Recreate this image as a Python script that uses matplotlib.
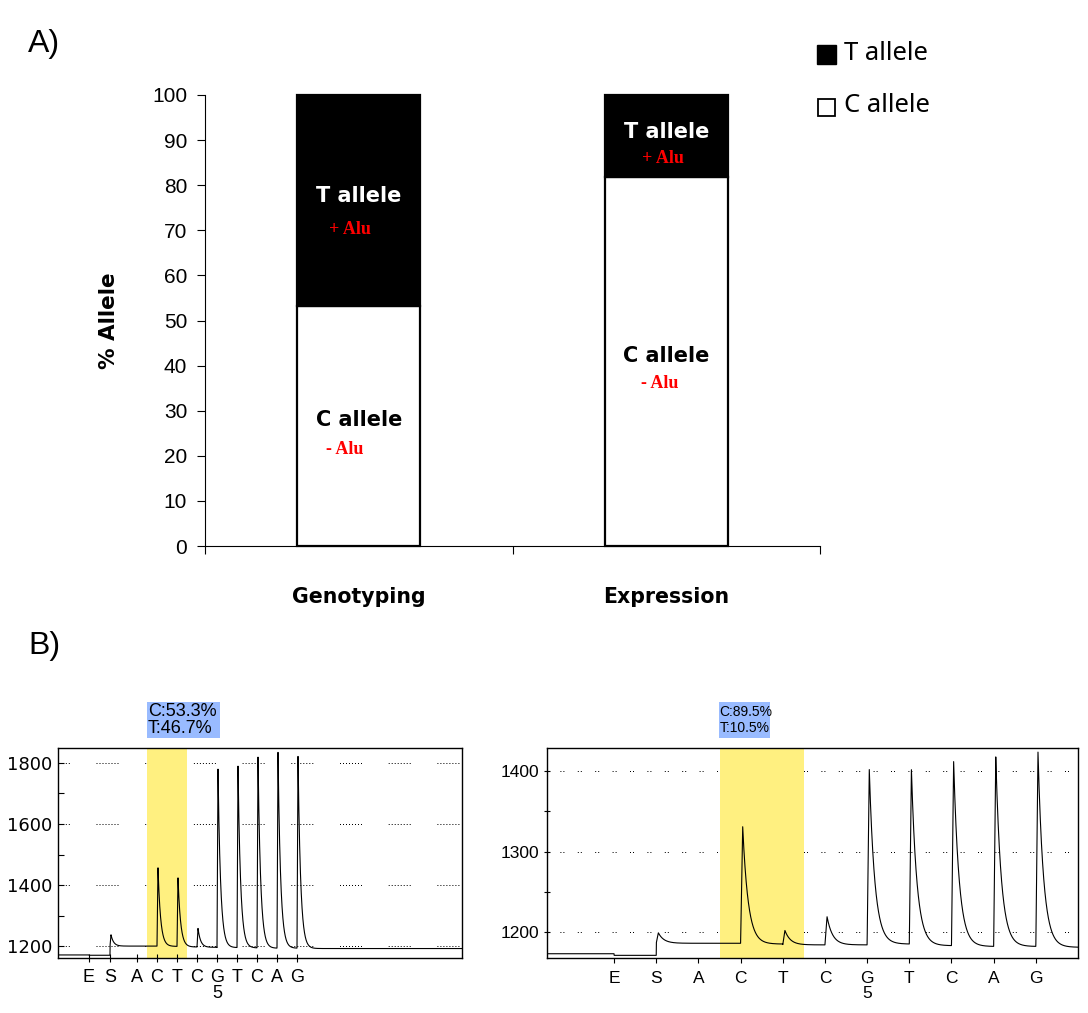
import matplotlib.pyplot as plt
import numpy as np
from matplotlib.patches import Rectangle
from matplotlib import transforms

# ---- panel A: allele percentages ----
categories = ['Genotyping', 'Expression']
c_allele = [53.3, 81.8]
t_allele = [46.7, 18.2]

# ---- panel B: pyrograms (dispensation order, peak tops, baselines) ----
disp_letters = ['E', 'S', 'A', 'C', 'T', 'C', 'G', 'T', 'C', 'A', 'G']
geno_times = [0.6, 1.65, 3, 4, 5, 6, 7, 8, 9, 10, 11]
geno_peaks = [0, 1237, 0, 1457, 1424, 1258, 1782, 1792, 1822, 1838, 1825]
geno_base = [1170, 1200, 1200, 1199, 1197, 1196, 1195, 1194, 1193, 1193, 1192]
geno_start = 1171
geno_pct = ['C:53.3%', 'T:46.7%']

expr_times = [1, 2, 3, 4, 5, 6, 7, 8, 9, 10, 11]
expr_peaks = [0, 1199, 0, 1331, 1202, 1219, 1404, 1402, 1414, 1418, 1426]
expr_base = [1171, 1186, 1186, 1185, 1184, 1184, 1185, 1183, 1182, 1182, 1181]
expr_start = 1173
expr_pct = ['C:89.5%', 'T:10.5%']

W, H = 1088, 1013
fig = plt.figure(figsize=(W / 100, H / 100), dpi=100)

BOLD = 'DejaVu Sans'


def px_axes(x0, y0, x1, y1):
    return fig.add_axes([x0 / W, 1 - y1 / H, (x1 - x0) / W, (y1 - y0) / H])


def pyro_trace(ax, times, peaks, bases, start, tau=0.13, rise=0.05):
    x0, x1 = ax.get_xlim()
    x = np.linspace(x0, x1, 6000)
    t = np.array(times, dtype=float)
    b = np.array(bases, dtype=float)
    idx = np.searchsorted(t, x, side='right') - 1
    y = np.where(idx < 0, start, b[np.clip(idx, 0, None)])
    for ti, pk, bi in zip(times, peaks, bases):
        if pk <= 0:
            continue
        d = x - ti
        shape = np.where(d < 0, 0.0, np.where(d < rise, d / rise, np.exp(-(d - rise) / tau)))
        y = y + (pk - bi) * shape
    ax.plot(x, y, color='black', lw=0.8, zorder=3)


fig.text(28 / W, 1 - 44 / H, 'A)', fontsize=23, va='center', family='Liberation Sans')
fig.text(28 / W, 1 - 646 / H, 'B)', fontsize=23, va='center', family='Liberation Sans')

# ---------------- panel A ----------------
ax = px_axes(205, 95, 820, 546)
xc = np.arange(len(categories)) + 0.5
ax.bar(xc, c_allele, width=0.4, color='white', edgecolor='black', linewidth=1.6, clip_on=False, zorder=2)
ax.bar(xc, t_allele, bottom=c_allele, width=0.4, color='black', edgecolor='black', linewidth=1.6,
       clip_on=False, zorder=2)
ax.set_xlim(0, 2)
ax.set_ylim(0, 100)
for s in ['top', 'right']:
    ax.spines[s].set_visible(False)
for s in ['left', 'bottom']:
    ax.spines[s].set_linewidth(0.8)
ax.set_yticks(range(0, 101, 10))
ax.set_xticks([0, 1, 2])
ax.set_xticklabels([])
ax.tick_params(axis='y', direction='out', length=5.8, width=0.8, labelsize=15, pad=7)
ax.tick_params(axis='x', direction='out', length=5.8, width=0.8)
for lab in ax.get_yticklabels():
    lab.set_family('Liberation Sans')
ax.set_ylabel('% Allele', fontsize=15.5, fontweight='bold', family=BOLD, labelpad=24)
trans = transforms.blended_transform_factory(ax.transData, ax.transAxes)
for i, cat in enumerate(categories):
    ax.text(xc[i], -0.113, cat, transform=trans, ha='center', va='center', fontsize=14.8,
            fontweight='bold', family=BOLD)

bar_lab = dict(ha='center', va='center', fontsize=15, fontweight='bold', family=BOLD)
alu_lab = dict(ha='center', va='center', fontsize=13, fontweight='bold', family='Liberation Serif',
               color='#ff0000')
ax.text(xc[0], 77.6, 'T allele', color='white', zorder=4, **bar_lab)
ax.text(xc[0] - 0.03, 70.1, '+ Alu', zorder=4, **alu_lab)
ax.text(xc[0], 27.9, 'C allele', color='black', zorder=4, **bar_lab)
ax.text(xc[0] - 0.045, 21.3, '- Alu', zorder=4, **alu_lab)
ax.text(xc[1], 91.8, 'T allele', color='white', zorder=4, **bar_lab)
ax.text(xc[1] - 0.01, 86.0, '+ Alu', zorder=4, **alu_lab)
ax.text(xc[1], 42.1, 'C allele', color='black', zorder=4, **bar_lab)
ax.text(xc[1] - 0.02, 36.1, '- Alu', zorder=4, **alu_lab)

# legend
fig.patches.append(Rectangle((817 / W, 1 - 64 / H), 19 / W, 19 / H, transform=fig.transFigure,
                             facecolor='black', edgecolor='black', lw=1))
fig.patches.append(Rectangle((818 / W, 1 - 116 / H), 17 / W, 17 / H, transform=fig.transFigure,
                             facecolor='white', edgecolor='black', lw=1.3))
fig.text(844 / W, 1 - 53 / H, 'T allele', fontsize=18.5, va='center', family='Noto Sans')
fig.text(844 / W, 1 - 105 / H, 'C allele', fontsize=18.5, va='center', family='Noto Sans')

# ---------------- panel B ----------------
axl = px_axes(58, 748, 462, 958)
axl.set_xlim(-0.95, 19.25)
axl.set_ylim(1161, 1849)
axr = px_axes(547, 748, 1078, 958)
axr.set_xlim(-0.59, 12.0)
axr.set_ylim(1167.7, 1428.6)

# dotted grid segments, dash units = pixels at lw 0.72pt
left_dash = (10.7, [1, 2] * 7 + [1, 26.7])
for yv in [1200, 1400, 1600, 1800]:
    axl.axhline(yv, color='black', lw=0.72, linestyle=left_dash, zorder=1)
right_dash = (4.5, [1, 2, 1, 13.4])
for yv in [1200, 1300, 1400]:
    axr.axhline(yv, color='black', lw=0.72, linestyle=right_dash, zorder=1)

axl.axvspan(3.5, 5.5, color='#fff080', lw=0, zorder=1.5)
axr.axvspan(3.5, 5.5, color='#fff080', lw=0, zorder=1.5)

pyro_trace(axl, geno_times, geno_peaks, geno_base, geno_start)
pyro_trace(axr, expr_times, expr_peaks, expr_base, expr_start)

letters = [l if i != 6 else l + '\n5' for i, l in enumerate(disp_letters)]

axl.set_yticks([1200, 1400, 1600, 1800])
axl.set_yticks([1300, 1500, 1700], minor=True)
axl.set_xticks(geno_times)
axl.set_xticklabels(letters)
axl.tick_params(axis='y', which='both', direction='in', length=4, width=0.8, labelsize=13, pad=4)
axl.tick_params(axis='x', direction='inout', length=6, width=0.8, labelsize=13, pad=5)
for lab in axl.get_yticklabels():
    lab.set_family('DejaVu Sans')
for lab in axl.get_xticklabels():
    lab.set_family('Liberation Sans')
    lab.set_linespacing(0.95)

axr.set_yticks([1200, 1300, 1400])
axr.set_yticks([1250, 1350], minor=True)
axr.set_xticks(expr_times)
axr.set_xticklabels(letters)
axr.tick_params(axis='y', which='both', direction='inout', length=5, width=0.8, labelsize=12.5, pad=3)
axr.tick_params(axis='x', direction='out', length=3.5, width=0.8, labelsize=12.5, pad=6)
for lab in axr.get_xticklabels() + axr.get_yticklabels():
    lab.set_family('Liberation Sans')
    lab.set_linespacing(0.95)

for a in (axl, axr):
    for s in a.spines.values():
        s.set_linewidth(1.0)

# percentage boxes
fig.patches.append(Rectangle((147 / W, 1 - 738 / H), 73 / W, 36 / H, transform=fig.transFigure,
                             facecolor='#99bbff', edgecolor='none'))
fig.text(148 / W, 1 - 720 / H, '\n'.join(geno_pct), fontsize=13, va='center', linespacing=0.95,
         family='Liberation Sans')
fig.patches.append(Rectangle((719 / W, 1 - 738 / H), 51 / W, 36 / H, transform=fig.transFigure,
                             facecolor='#99bbff', edgecolor='none'))
fig.text(719.5 / W, 1 - 720 / H, '\n'.join(expr_pct), fontsize=10, va='center', linespacing=1.15,
         family='Liberation Sans')

fig.savefig('out.png', dpi=100)
